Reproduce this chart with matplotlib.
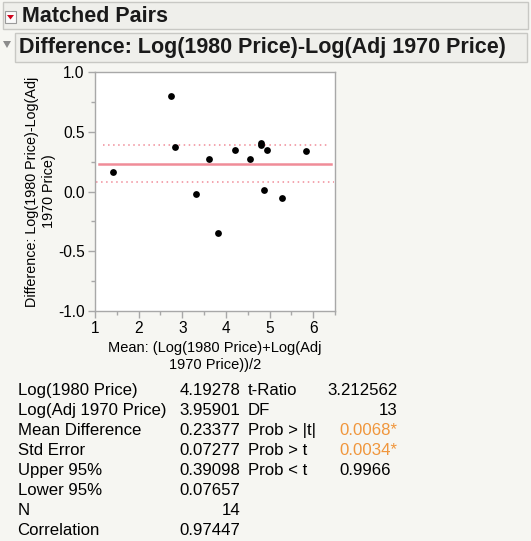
import matplotlib
matplotlib.use("Agg")
import matplotlib.pyplot as plt
from matplotlib.patches import Rectangle, Polygon

plt.rcParams['font.family'] = ['Liberation Sans', 'DejaVu Sans']

# ---- data ----
mean_vals = [1.42, 2.735, 2.827, 3.316, 3.615, 3.829, 4.211, 4.563, 4.815, 4.807, 4.937, 4.868, 5.274, 5.839]
diff_vals = [0.165, 0.798, 0.374, -0.017, 0.268, -0.349, 0.349, 0.276, 0.407, 0.390, 0.349, 0.014, -0.056, 0.343]
mean_diff = 0.23377
upper95 = 0.39098
lower95 = 0.07657

x_ticks = [1, 2, 3, 4, 5, 6]
y_ticks = [-1.0, -0.5, 0.0, 0.5, 1.0]

stats_left_labels = ["Log(1980 Price)", "Log(Adj 1970 Price)", "Mean Difference", "Std Error",
                     "Upper 95%", "Lower 95%", "N", "Correlation"]
stats_left_values = ["4.19278", "3.95901", "0.23377", "0.07277", "0.39098", "0.07657", "14", "0.97447"]
stats_right_labels = ["t-Ratio", "DF", "Prob > |t|", "Prob > t", "Prob < t"]
stats_right_values = ["3.212562", "13", "0.0068*", "0.0034*", "0.9966"]

W, H = 531, 541
bg = '#f6f6f2'
fig = plt.figure(figsize=(W/100, H/100), dpi=100, facecolor=bg)

def fx(px):
    return px / W
def fy(py):
    return 1 - py / H

# ---- headers ----
hdr1 = Rectangle((fx(3), fy(29)), fx(528) - fx(3), fy(2) - fy(29), transform=fig.transFigure,
                 facecolor='#efefeb', edgecolor='#c8c8c4', linewidth=1)
fig.patches.append(hdr1)
hdr2 = Rectangle((fx(15), fy(62)), fx(527) - fx(15), fy(33) - fy(62), transform=fig.transFigure,
                 facecolor='#efefeb', edgecolor='#c8c8c4', linewidth=1)
fig.patches.append(hdr2)
icon = Rectangle((fx(5), fy(23)), fx(11), fy(11) - fy(23), transform=fig.transFigure,
                 facecolor='#fafafa', edgecolor='#9a9a9a', linewidth=0.8)
fig.patches.append(icon)
tri = Polygon([(fx(7), fy(15)), (fx(14), fy(15)), (fx(10.5), fy(19.5))], closed=True,
              transform=fig.transFigure, facecolor='#d0021b', edgecolor='none')
fig.patches.append(tri)
tri2 = Polygon([(fx(3), fy(41)), (fx(11), fy(41)), (fx(7), fy(48))], closed=True,
               transform=fig.transFigure, facecolor='#8c8c8c', edgecolor='none')
fig.patches.append(tri2)

fig.text(fx(22), fy(16), "Matched Pairs", fontsize=15.5, fontweight='bold', color='#1a1a1a',
         ha='left', va='center')
fig.text(fx(19), fy(47.5), "Difference: Log(1980 Price)-Log(Adj 1970 Price)", fontsize=15.5,
         fontweight='bold', color='#1a1a1a', ha='left', va='center')

# ---- plot ----
ax = fig.add_axes([fx(95), fy(311), fx(335) - fx(95), fy(72) - fy(311)])
ax.set_facecolor('white')
ax.set_xlim(1, 6.5)
ax.set_ylim(-1.0, 1.0)
ax.set_xticks(x_ticks)
ax.set_xticklabels([str(v) for v in x_ticks])
ax.set_yticks(y_ticks)
ax.set_yticklabels([f"{v:.1f}" for v in y_ticks])
ax.set_xticks([1.5, 2.5, 3.5, 4.5, 5.5, 6.5], minor=True)
ax.set_yticks([-0.75, -0.25, 0.25, 0.75], minor=True)
for s in ax.spines.values():
    s.set_color('#a8a8a8')
    s.set_linewidth(1)
ax.tick_params(axis='both', which='major', length=5, width=1, color='#a8a8a8',
               labelsize=11.2, labelcolor='black', pad=2.5)
ax.tick_params(axis='both', which='minor', length=3, width=1, color='#a8a8a8')

line_col = '#f08c98'
ax.axhline(mean_diff, xmin=0.015, xmax=0.985, color=line_col, linewidth=1.8)
ax.axhline(upper95, xmin=0.032, xmax=0.97, color=line_col, linewidth=1.1, linestyle=(0, (1, 2.3)))
ax.axhline(lower95, xmin=0.004, xmax=0.995, color=line_col, linewidth=1.1, linestyle=(0, (1, 2.3)))

ax.scatter(mean_vals, diff_vals, s=24, color='black', zorder=3, linewidths=0)

ax.set_xlabel("Mean: (Log(1980 Price)+Log(Adj\n1970 Price))/2", fontsize=10.5,
              linespacing=1.25, va='center')
ax.xaxis.set_label_coords(0.5, (311 - 356.5) / 239)
ax.set_ylabel("Difference: Log(1980 Price)-Log(Adj\n1970 Price)", fontsize=10.4,
              linespacing=1.25, va='center')
ax.yaxis.set_label_coords((40.5 - 95) / 240, 0.5)

# ---- stats table ----
fs = 12.1
for i, (lab, val) in enumerate(zip(stats_left_labels, stats_left_values)):
    y = fy(390.5 + 20 * i)
    fig.text(fx(17.5), y, lab, fontsize=fs, ha='left', va='center', color='black')
    fig.text(fx(240.5), y, val, fontsize=fs, ha='right', va='center', color='black')

orange = '#f0963c'
for i, (lab, val) in enumerate(zip(stats_right_labels, stats_right_values)):
    y = fy(390.5 + 20 * i)
    fig.text(fx(247.5), y, lab, fontsize=fs, ha='left', va='center', color='black')
    if val.endswith('*'):
        fig.text(fx(339.5), y, val, fontsize=fs, ha='left', va='center', color=orange)
    elif i == 4:
        fig.text(fx(339.5), y, val, fontsize=fs, ha='left', va='center', color='black')
    else:
        fig.text(fx(397.5), y, val, fontsize=fs, ha='right', va='center', color='black')

fig.savefig("out.png", dpi=100, facecolor=bg)
